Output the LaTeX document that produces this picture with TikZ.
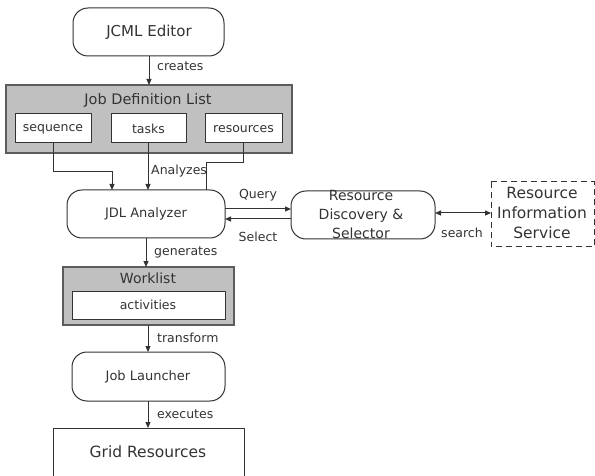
\documentclass[tikz,border=0pt]{standalone}
\usepackage{fontspec}
\setmainfont{DejaVu Sans}
\usetikzlibrary{arrows.meta}
\definecolor{ink}{HTML}{333333}
\definecolor{panel}{HTML}{C0C0C0}
\tikzset{
  every node/.style={text=ink, inner sep=0pt},
  roundbox/.style={draw=ink, line width=1pt, rounded corners=15pt, fill=white},
  panelbox/.style={draw=ink!80, line width=1.6pt, fill=panel},
  itembox/.style={draw=ink, line width=1pt, fill=white},
  flow/.style={draw=ink, line width=1pt, -{Triangle[length=6pt,width=5pt]}},
  plain/.style={draw=ink, line width=1pt},
  lbl/.style={font=\fontsize{12.5}{14}\selectfont},
  item/.style={font=\fontsize{12.5}{14}\selectfont},
}
\begin{document}
\begin{tikzpicture}[x=1pt,y=-1pt]
\useasboundingbox (0,0) rectangle (595,476);
\begin{scope}
\clip (0,0) rectangle (595,476);

% JCML Editor
\draw[roundbox] (73,8) rectangle (224,56);
\node[font=\fontsize{15}{17}\selectfont] (editor) at (149,32) {JCML Editor};
\coordinate (editorS) at (149,56);

% Job Definition List panel
\draw[panelbox] (6,85) rectangle (292,153);
\coordinate (jdlN) at (149,85);
\node[font=\fontsize{14.5}{16}\selectfont] (jdltitle) at (148,100) {Job Definition List};
\draw[itembox] (15,114) rectangle (91,143);
\node[item] (seq) at (53,129) {sequence};
\draw[itembox] (111,114) rectangle (186,143);
\node[item] (tasks) at (148.5,129) {tasks};
\draw[itembox] (205,114) rectangle (282,143);
\node[item] (res) at (243.5,129) {resources};
\coordinate (seqS) at (53,143);
\coordinate (tasksS) at (148,143);
\coordinate (resS) at (243,143);

% JDL Analyzer
\draw[roundbox] (67,190) rectangle (225,238);
\node[font=\fontsize{13}{15}\selectfont] (analyzer) at (146,214) {JDL Analyzer};

% Resource Discovery & Selector
\draw[roundbox] (291,191) rectangle (435,239);
\node[font=\fontsize{14}{19}\selectfont, align=center] (rds) at (361,214)
  {Resource\\Discovery \&\\Selector};

% Resource Information Service
\draw[draw=ink, line width=1pt, dashed, dash pattern=on 6pt off 4pt] (491,182) rectangle (594,247);
\node[font=\fontsize{15.5}{20}\selectfont, align=center] (ris) at (542,213)
  {Resource\\Information\\Service};

% Worklist panel
\draw[panelbox] (63,267) rectangle (234,325);
\node[font=\fontsize{14}{16}\selectfont] (wltitle) at (148,278) {Worklist};
\draw[itembox] (72,291) rectangle (225,319);
\node[item] (act) at (148,305) {activities};

% Job Launcher
\draw[roundbox] (72,352) rectangle (225,401);
\node[font=\fontsize{13}{15}\selectfont] (launcher) at (148,377) {Job Launcher};

% Grid Resources
\draw[itembox] (53,428) rectangle (244,490);
\node[font=\fontsize{15.5}{17}\selectfont] (grid) at (148,452) {Grid Resources};

% connectors
\draw[flow] (editorS) -- (jdlN);
\node[lbl, anchor=west] (lcreates) at (157,66) {creates};

\draw[flow] (seqS) |- (112,172) -- (112,190);
\draw[flow] (tasksS) -- (148,190);
\node[lbl, anchor=west] (lanalyzes) at (151,171) {Analyzes};
\draw[plain] (resS) |- (206,163) -- (206,190);

\draw[flow] (225,209) -- (291,209);
\node[lbl] (lquery) at (258,195) {Query};
\draw[flow] (291,219) -- (225,219);
\node[lbl] (lselect) at (258,237) {Select};

\draw[draw=ink, line width=1pt, {Triangle[length=6pt,width=5pt]}-{Triangle[length=6pt,width=5pt]}] (435,213) -- (491,213);
\node[lbl] (lsearch) at (462,233) {search};

\draw[flow] (146,238) -- (146,267);
\node[lbl, anchor=west] (lgenerates) at (154,252) {generates};

\draw[flow] (148,325) -- (148,352);
\node[lbl, anchor=west] (ltransform) at (157,338) {transform};

\draw[flow] (148,401) -- (148,428);
\node[lbl, anchor=west] (lexecutes) at (157,414) {executes};
\end{scope}
\end{tikzpicture}
\end{document}
